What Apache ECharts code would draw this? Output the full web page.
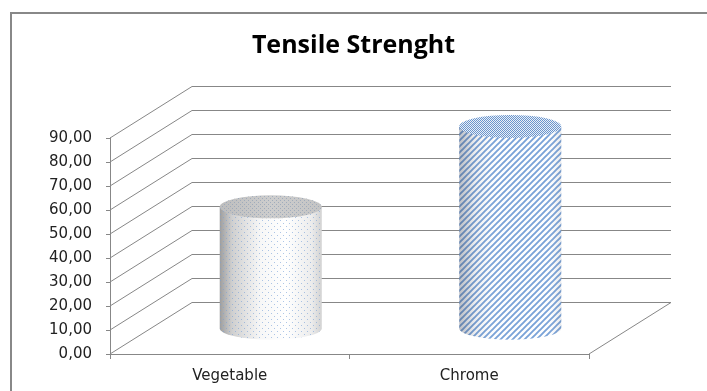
<!DOCTYPE html>
<html>
<head>
<meta charset="utf-8">
<script src="https://cdn.jsdelivr.net/npm/echarts@6/dist/echarts.min.js"></script>
<style>html,body{margin:0;padding:0;background:#fff}#c{width:707px;height:391px}</style>
</head>
<body>
<div id="c"></div>
<script>
const categories = ['Vegetable', 'Chrome'];
const strength = [50.6, 84.1];
const yTicks = [0, 10, 20, 30, 40, 50, 60, 70, 80, 90];

const DX = 82, DY = 51.5;      // 3D depth offset of back wall (px)
const LINE = '#878787';

function makeCanvas(w, h, draw) {
  const c = document.createElement('canvas');
  c.width = w; c.height = h;
  draw(c.getContext('2d'));
  return c;
}
const dotPattern = makeCanvas(6, 6, g => {
  g.fillStyle = 'rgba(120,160,215,0.6)';
  g.fillRect(1, 1, 1, 1);
  g.fillRect(4, 4, 1, 1);
});
const dotPatternDark = makeCanvas(4, 4, g => {
  g.fillStyle = 'rgba(150,165,185,0.8)';
  g.fillRect(0, 0, 1, 1);
  g.fillRect(2, 2, 1, 1);
});
const stripePattern = makeCanvas(6, 6, g => {
  g.fillStyle = '#ffffff'; g.fillRect(0, 0, 6, 6);
  g.strokeStyle = '#7aa3d8'; g.lineWidth = 1.9;
  g.beginPath();
  g.moveTo(-1, 7); g.lineTo(7, -1);
  g.moveTo(-4, 4); g.lineTo(4, -4);
  g.moveTo(2, 10); g.lineTo(10, 2);
  g.stroke();
});
const checkPattern = makeCanvas(2, 2, g => {
  g.fillStyle = '#e9eff8'; g.fillRect(0, 0, 2, 2);
  g.fillStyle = '#6a95cc';
  g.fillRect(0, 0, 1, 1); g.fillRect(1, 1, 1, 1);
});

const chart = echarts.init(document.getElementById('c'), null, {renderer: 'canvas'});

function bodyPath(cx, rx, ry, ty, by) {
  return `M ${cx - rx} ${ty} L ${cx - rx} ${by} A ${rx} ${ry} 0 0 0 ${cx + rx} ${by} L ${cx + rx} ${ty} Z`;
}
function ellipsePath(cx, cy, rx, ry) {
  return `M ${cx - rx} ${cy} A ${rx} ${ry} 0 1 0 ${cx + rx} ${cy} A ${rx} ${ry} 0 1 0 ${cx - rx} ${cy} Z`;
}
function hGrad(stops) {
  return {type: 'linear', x: 0, y: 0, x2: 1, y2: 0, colorStops: stops};
}

const option = {
  backgroundColor: '#fff',
  animation: false,
  title: {
    text: 'Tensile Strenght',
    left: 'center',
    top: 28,
    textStyle: {fontFamily: 'Open Sans', fontWeight: 'bold', fontSize: 25, color: '#000'}
  },
  graphic: [{
    type: 'rect', silent: true,
    shape: {x: 11, y: 13, width: 800, height: 500},
    style: {fill: 'none', stroke: '#888', lineWidth: 2}
  }],
  grid: {left: 110, right: 118, top: 138, bottom: 37},
  xAxis: {
    type: 'category',
    data: categories,
    boundaryGap: true,
    axisLine: {show: true, lineStyle: {color: LINE, width: 1}},
    axisTick: {show: true, length: 5, lineStyle: {color: LINE}},
    axisLabel: {margin: 15, fontFamily: 'DejaVu Sans', fontSize: 15, color: '#222'},
    splitLine: {show: false}
  },
  yAxis: {
    type: 'value',
    min: 0, max: 90, interval: 10,
    axisLine: {show: true, lineStyle: {color: LINE, width: 1}},
    axisTick: {show: true, length: 4, lineStyle: {color: LINE}},
    axisLabel: {
      margin: 18, fontFamily: 'DejaVu Sans', fontSize: 15, color: '#222',
      formatter: v => v.toFixed(2).replace('.', ',')
    },
    splitLine: {show: false}
  },
  series: [
    {
      type: 'custom',
      name: 'walls',
      z: 1,
      silent: true,
      data: yTicks.map(v => [0, v]),
      renderItem: (params, api) => {
        const cs = params.coordSys;
        const v = api.value(1);
        const y = api.coord([0, v])[1];
        const children = [{
          type: 'polyline',
          shape: {points: [[cs.x, y], [cs.x + DX, y - DY], [cs.x + cs.width + DX, y - DY]]},
          style: {stroke: LINE, lineWidth: 1, fill: null}
        }];
        if (v === 0) {
          children.push({
            type: 'line',
            shape: {x1: cs.x + cs.width, y1: y, x2: cs.x + cs.width + DX, y2: y - DY},
            style: {stroke: LINE, lineWidth: 1}
          });
        }
        return {type: 'group', children};
      }
    },
    {
      type: 'custom',
      name: 'cylinders',
      z: 3,
      data: strength.map((v, i) => [i, v]),
      renderItem: (params, api) => {
        const i = api.value(0), v = api.value(1);
        const base = api.coord([i, 0]);
        const top = api.coord([i, v]);
        const bw = api.size([1, 0])[0];
        const rx = bw * 0.213, ry = rx * 0.225;
        const cx = base[0] + DX * 0.5;
        const by = base[1] - DY * 0.5;
        const ty = top[1] - DY * 0.5;
        const body = bodyPath(cx, rx, ry, ty, by);
        const cap = ellipsePath(cx, ty, rx, ry);
        let children;
        if (i === 0) {
          children = [
            {type: 'path', shape: {pathData: body}, style: {fill: hGrad([
              {offset: 0, color: '#9e9e9e'}, {offset: 0.12, color: '#cfcfcf'},
              {offset: 0.4, color: '#f7f7f7'}, {offset: 0.65, color: '#ffffff'},
              {offset: 0.9, color: '#ececec'}, {offset: 1, color: '#d2d2d2'}])}},
            {type: 'path', shape: {pathData: body}, style: {fill: {image: dotPattern, repeat: 'repeat'}}},
            {type: 'path', shape: {pathData: cap}, style: {fill: hGrad([
              {offset: 0, color: '#bdbdbd'}, {offset: 0.5, color: '#cdcdcd'}, {offset: 1, color: '#c4c4c4'}])}},
            {type: 'path', shape: {pathData: cap}, style: {fill: {image: dotPatternDark, repeat: 'repeat'}}}
          ];
        } else {
          children = [
            {type: 'path', shape: {pathData: body}, style: {fill: {image: stripePattern, repeat: 'repeat'}}},
            {type: 'path', shape: {pathData: body}, style: {fill: hGrad([
              {offset: 0, color: 'rgba(60,70,90,0.35)'}, {offset: 0.15, color: 'rgba(60,70,90,0.1)'},
              {offset: 0.4, color: 'rgba(255,255,255,0)'}, {offset: 0.85, color: 'rgba(255,255,255,0)'},
              {offset: 1, color: 'rgba(60,70,90,0.12)'}])}},
            {type: 'path', shape: {pathData: cap}, style: {fill: {image: checkPattern, repeat: 'repeat'}}}
          ];
        }
        return {type: 'group', children};
      }
    }
  ]
};
chart.setOption(option);
</script>
</body>
</html>
